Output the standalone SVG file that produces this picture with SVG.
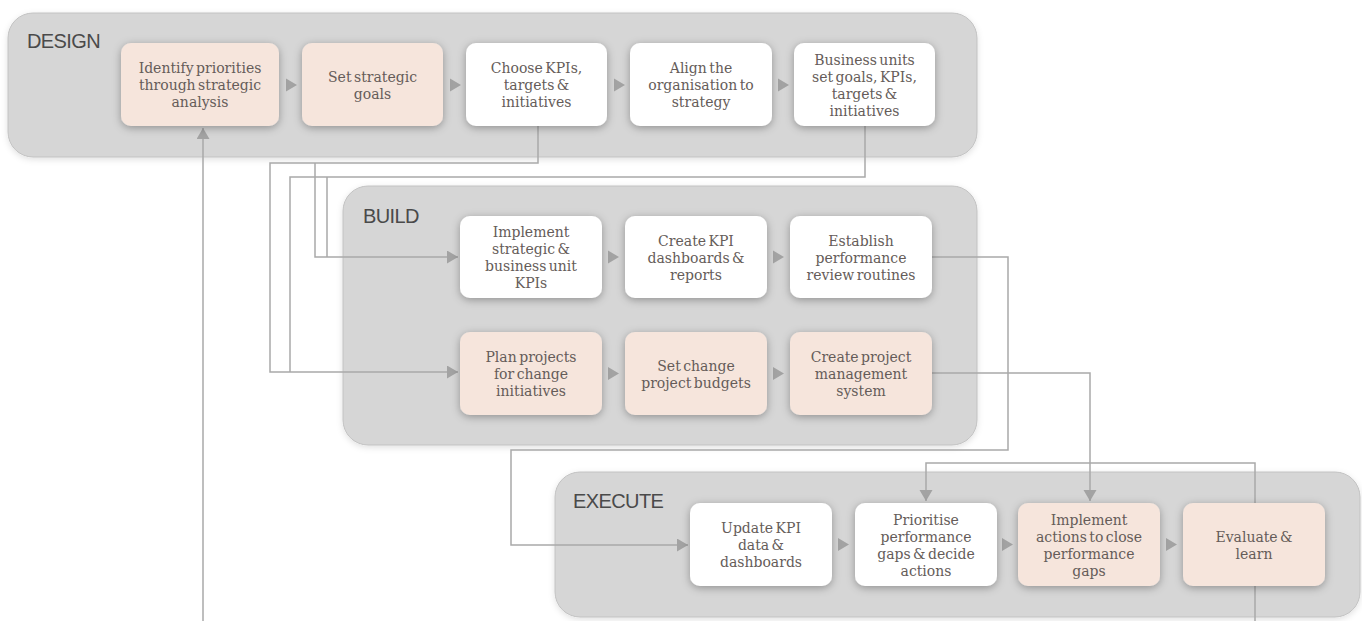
<svg xmlns="http://www.w3.org/2000/svg" width="1362" height="621" viewBox="0 0 1362 621">
<style>
.cont{fill:#d6d6d6;stroke:#c2c2c2;stroke-width:1}
.lab{font-family:"Liberation Sans",Arial,sans-serif;font-size:20px;fill:#4a4a4a;letter-spacing:-0.6px}
.peach{fill:#f6e5dc}
.white{fill:#ffffff}
.node rect{filter:url(#sh)}
.t{font-family:"DejaVu Serif","Liberation Serif",serif;font-size:14px;fill:#655c59;text-anchor:middle;word-spacing:-2px}
.ln{fill:none;stroke:#a9a9a9;stroke-width:1.5}
.tri{fill:#a3a3a3}
</style>
<defs>
<filter id="sh" x="-20%" y="-20%" width="140%" height="150%">
<feDropShadow dx="0" dy="2" stdDeviation="4" flood-color="#000" flood-opacity="0.32"/>
</filter>
<filter id="csh" x="-5%" y="-10%" width="110%" height="125%">
<feDropShadow dx="0" dy="2" stdDeviation="3" flood-color="#000" flood-opacity="0.12"/>
</filter>
<marker id="ah" markerUnits="userSpaceOnUse" markerWidth="12" markerHeight="14" refX="11" refY="6.5" orient="auto">
<path d="M0,0 L11,6.5 L0,13 z" fill="#a3a3a3"/>
</marker>
</defs>

<g id="design">
<rect class="cont" x="8" y="13" width="969" height="144" rx="25" filter="url(#csh)"/>
<text class="lab" x="27" y="48">DESIGN</text>
</g>
<g id="build">
<rect class="cont" x="343" y="186" width="634" height="259" rx="25" filter="url(#csh)"/>
<text class="lab" x="363" y="223">BUILD</text>
</g>
<g id="execute">
<rect class="cont" x="555" y="472" width="805" height="145" rx="25" filter="url(#csh)"/>
<text class="lab" x="573" y="508">EXECUTE</text>
</g>

<g id="connectors">
<path class="ln" d="M203,621 V128" marker-end="url(#ah)"/>
<path class="ln" d="M538,126 V163 H270 V372 H458" marker-end="url(#ah)"/>
<path class="ln" d="M315,163 V257 H458" marker-end="url(#ah)"/>
<path class="ln" d="M865,126 V177 H290 V372"/>
<path class="ln" d="M327,177 V257"/>
<path class="ln" d="M932,257 H1008 V450 H511 V545 H688" marker-end="url(#ah)"/>
<path class="ln" d="M932,373 H1090 V501" marker-end="url(#ah)"/>
<path class="ln" d="M1255,621 V463 H926 V501" marker-end="url(#ah)"/>
<polygon class="tri" points="286,78.5 297,85 286,91.5"/>
<polygon class="tri" points="450,78.5 461,85 450,91.5"/>
<polygon class="tri" points="614,78.5 625,85 614,91.5"/>
<polygon class="tri" points="778,78.5 789,85 778,91.5"/>
<polygon class="tri" points="608,250.5 619,257 608,263.5"/>
<polygon class="tri" points="773,250.5 784,257 773,263.5"/>
<polygon class="tri" points="608,367 619,373.5 608,380"/>
<polygon class="tri" points="773,367 784,373.5 773,380"/>
<polygon class="tri" points="838,538 849,544.5 838,551"/>
<polygon class="tri" points="1002,538 1013,544.5 1002,551"/>
<polygon class="tri" points="1166,538 1177,544.5 1166,551"/>
</g>

<g id="n1" class="node"><rect class="peach" x="121" y="43" width="158" height="83" rx="10"/>
<text class="t" x="200" y="73">Identify priorities</text><text class="t" x="200" y="90">through strategic</text><text class="t" x="200" y="107">analysis</text></g>
<g id="n2" class="node"><rect class="peach" x="302" y="43" width="141" height="83" rx="10"/>
<text class="t" x="372.5" y="81.5">Set strategic</text><text class="t" x="372.5" y="98.5">goals</text></g>
<g id="n3" class="node"><rect class="white" x="466" y="43" width="141" height="83" rx="10"/>
<text class="t" x="536.5" y="73">Choose KPIs,</text><text class="t" x="536.5" y="90">targets &amp;</text><text class="t" x="536.5" y="107">initiatives</text></g>
<g id="n4" class="node"><rect class="white" x="630" y="43" width="142" height="83" rx="10"/>
<text class="t" x="701" y="73">Align the</text><text class="t" x="701" y="90">organisation to</text><text class="t" x="701" y="107">strategy</text></g>
<g id="n5" class="node"><rect class="white" x="794" y="43" width="141" height="83" rx="10"/>
<text class="t" x="864.5" y="64.5">Business units</text><text class="t" x="864.5" y="81.5">set goals, KPIs,</text><text class="t" x="864.5" y="98.5">targets &amp;</text><text class="t" x="864.5" y="115.5">initiatives</text></g>

<g id="n6" class="node"><rect class="white" x="460" y="216" width="142" height="82" rx="10"/>
<text class="t" x="531" y="237">Implement</text><text class="t" x="531" y="254">strategic &amp;</text><text class="t" x="531" y="271">business unit</text><text class="t" x="531" y="288">KPIs</text></g>
<g id="n7" class="node"><rect class="white" x="625" y="216" width="142" height="82" rx="10"/>
<text class="t" x="696" y="245.5">Create KPI</text><text class="t" x="696" y="262.5">dashboards &amp;</text><text class="t" x="696" y="279.5">reports</text></g>
<g id="n8" class="node"><rect class="white" x="790" y="216" width="142" height="82" rx="10"/>
<text class="t" x="861" y="245.5">Establish</text><text class="t" x="861" y="262.5">performance</text><text class="t" x="861" y="279.5">review routines</text></g>
<g id="n9" class="node"><rect class="peach" x="460" y="332" width="142" height="83" rx="10"/>
<text class="t" x="531" y="362">Plan projects</text><text class="t" x="531" y="379">for change</text><text class="t" x="531" y="396">initiatives</text></g>
<g id="n10" class="node"><rect class="peach" x="625" y="332" width="142" height="83" rx="10"/>
<text class="t" x="696" y="370.5">Set change</text><text class="t" x="696" y="387.5">project budgets</text></g>
<g id="n11" class="node"><rect class="peach" x="790" y="332" width="142" height="83" rx="10"/>
<text class="t" x="861" y="362">Create project</text><text class="t" x="861" y="379">management</text><text class="t" x="861" y="396">system</text></g>

<g id="n12" class="node"><rect class="white" x="690" y="503" width="142" height="83" rx="10"/>
<text class="t" x="761" y="533">Update KPI</text><text class="t" x="761" y="550">data &amp;</text><text class="t" x="761" y="567">dashboards</text></g>
<g id="n13" class="node"><rect class="white" x="855" y="503" width="142" height="83" rx="10"/>
<text class="t" x="926" y="524.5">Prioritise</text><text class="t" x="926" y="541.5">performance</text><text class="t" x="926" y="558.5">gaps &amp; decide</text><text class="t" x="926" y="575.5">actions</text></g>
<g id="n14" class="node"><rect class="peach" x="1018" y="503" width="142" height="83" rx="10"/>
<text class="t" x="1089" y="524.5">Implement</text><text class="t" x="1089" y="541.5">actions to close</text><text class="t" x="1089" y="558.5">performance</text><text class="t" x="1089" y="575.5">gaps</text></g>
<g id="n15" class="node"><rect class="peach" x="1183" y="503" width="142" height="83" rx="10"/>
<text class="t" x="1254" y="541.5">Evaluate &amp;</text><text class="t" x="1254" y="558.5">learn</text></g>
</svg>
